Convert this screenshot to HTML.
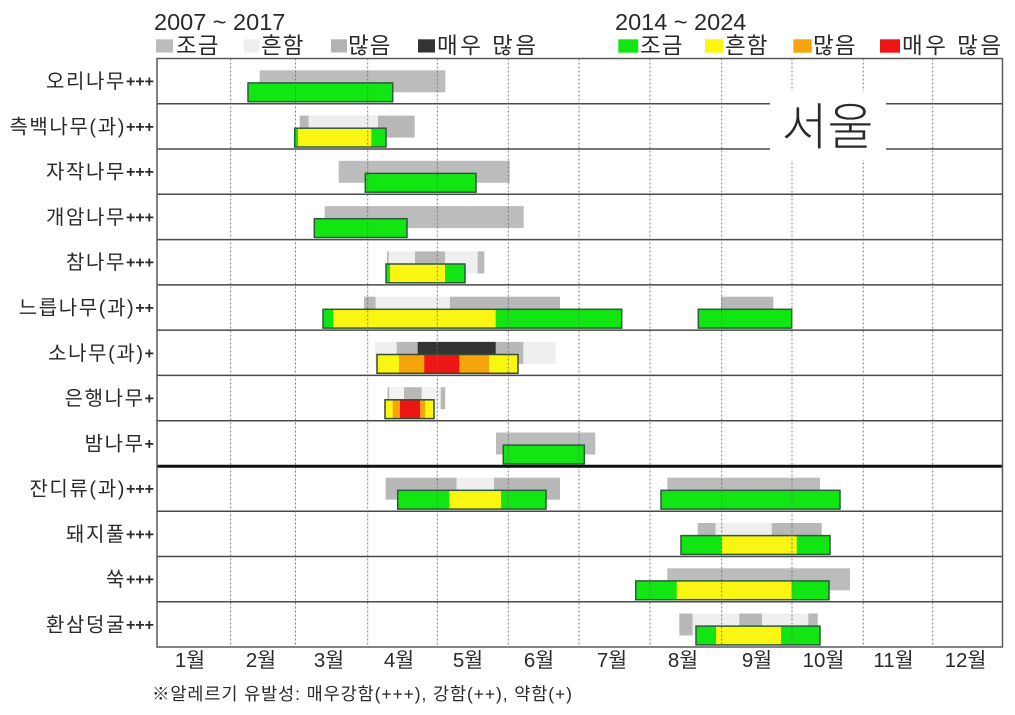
<!DOCTYPE html>
<html><head><meta charset="utf-8"><style>
html,body{margin:0;padding:0;background:#fff;}
svg{display:block;}
text{font-family:"Liberation Sans","Noto Sans CJK KR",sans-serif;fill:#2a2a2a;}
</style></head><body>
<svg width="1015" height="715" viewBox="0 0 1015 715" xmlns="http://www.w3.org/2000/svg">
<rect x="0" y="0" width="1015" height="715" fill="#fff"/>

<!-- Legends -->
<text x="154" y="30" font-size="23.5">2007 ~ 2017</text>
<rect x="156" y="39.3" width="17" height="13.2" fill="#bcbcbc"/>
<text x="176" y="53.5" font-size="22.5" letter-spacing="1">조금</text>
<rect x="244" y="39.3" width="15.5" height="13.2" fill="#eeeeee"/>
<text x="261" y="53.5" font-size="22.5" letter-spacing="1">흔함</text>
<rect x="331" y="39.3" width="16" height="13.2" fill="#b2b2b2"/>
<text x="348" y="53.5" font-size="22.5" letter-spacing="1">많음</text>
<rect x="418" y="39.3" width="17" height="13.2" fill="#333"/>
<text x="437" y="53.5" font-size="22.5" letter-spacing="2.5">매우 많음</text>

<text x="615" y="30" font-size="23.5">2014 ~ 2024</text>
<rect x="618.3" y="39.3" width="20" height="13.4" fill="#12e612"/>
<text x="640" y="53.5" font-size="22.5" letter-spacing="1">조금</text>
<rect x="705" y="39.3" width="18.3" height="13.4" fill="#fbf512"/>
<text x="725" y="53.5" font-size="22.5" letter-spacing="1">흔함</text>
<rect x="793.3" y="39.3" width="18.4" height="13.4" fill="#f6a40c"/>
<text x="813" y="53.5" font-size="22.5" letter-spacing="1">많음</text>
<rect x="880" y="39.3" width="20" height="13.4" fill="#ee1515"/>
<text x="902" y="53.5" font-size="22.5" letter-spacing="2.5">매우 많음</text>

<!-- Gray bars (2007~2017) -->
<g>
<rect x="259.7" y="70.3" width="185.6" height="22" fill="#bcbcbc"/>
<rect x="299.7" y="115.6" width="9" height="22" fill="#b8b8b8"/>
<rect x="308.7" y="115.6" width="69.3" height="22" fill="#eeeeee"/>
<rect x="378" y="115.6" width="36.7" height="22" fill="#b8b8b8"/>
<rect x="338.7" y="160.8" width="171" height="22" fill="#bcbcbc"/>
<rect x="324.7" y="206.1" width="199" height="22" fill="#bcbcbc"/>
<rect x="387.3" y="251.4" width="90.7" height="22" fill="#efefef"/>
<rect x="387" y="251.4" width="1.6" height="22" fill="#b8b8b8"/>
<rect x="415" y="251.4" width="30" height="22" fill="#b8b8b8"/>
<rect x="477.7" y="251.4" width="6.6" height="22" fill="#b8b8b8"/>
<rect x="364" y="296.7" width="11.7" height="22" fill="#b8b8b8"/>
<rect x="375.7" y="296.7" width="74.3" height="22" fill="#efefef"/>
<rect x="450" y="296.7" width="110" height="22" fill="#b8b8b8"/>
<rect x="721" y="296.7" width="52.3" height="22" fill="#b8b8b8"/>
<rect x="375" y="341.9" width="180.7" height="22" fill="#efefef"/>
<rect x="396.7" y="341.9" width="126.6" height="22" fill="#b8b8b8"/>
<rect x="417.7" y="341.9" width="78" height="22" fill="#333333"/>
<rect x="388" y="387.2" width="52.7" height="22" fill="#f2f2f2"/>
<rect x="387.5" y="387.2" width="1.6" height="22" fill="#b8b8b8"/>
<rect x="404" y="387.2" width="17.7" height="22" fill="#b8b8b8"/>
<rect x="440.7" y="387.2" width="4.5" height="22" fill="#b8b8b8"/>
<rect x="496" y="432.5" width="99.3" height="22" fill="#bcbcbc"/>
<rect x="385.7" y="477.7" width="71" height="22" fill="#b8b8b8"/>
<rect x="456.7" y="477.7" width="37.3" height="22" fill="#efefef"/>
<rect x="494" y="477.7" width="66" height="22" fill="#b8b8b8"/>
<rect x="667.3" y="477.7" width="152.7" height="22" fill="#bcbcbc"/>
<rect x="697.7" y="523" width="18" height="22" fill="#b8b8b8"/>
<rect x="715.7" y="523" width="56" height="22" fill="#efefef"/>
<rect x="771.7" y="523" width="50" height="22" fill="#b8b8b8"/>
<rect x="667.3" y="568.3" width="182.7" height="22" fill="#bcbcbc"/>
<rect x="679.3" y="613.5" width="13.4" height="22" fill="#b8b8b8"/>
<rect x="692.7" y="613.5" width="115.6" height="22" fill="#efefef"/>
<rect x="739.3" y="613.5" width="22.7" height="22" fill="#b8b8b8"/>
<rect x="808.3" y="613.5" width="9.4" height="22" fill="#b8b8b8"/>
</g>

<!-- Colored bars (2014~2024) -->
<g>
<rect x="248" y="82.9" width="144.7" height="18.8" fill="#12e612"/>
<rect x="248" y="82.9" width="144.7" height="18.8" fill="none" stroke="#2d5a3c" stroke-width="1.5"/>
<rect x="294.7" y="128.2" width="91.3" height="18.8" fill="#12e612"/>
<rect x="298" y="128.2" width="73.3" height="18.8" fill="#fbf512"/>
<rect x="294.7" y="128.2" width="91.3" height="18.8" fill="none" stroke="#2d5a3c" stroke-width="1.5"/>
<rect x="365.3" y="173.4" width="110.7" height="18.8" fill="#12e612"/>
<rect x="365.3" y="173.4" width="110.7" height="18.8" fill="none" stroke="#2d5a3c" stroke-width="1.5"/>
<rect x="314.3" y="218.7" width="92.7" height="18.8" fill="#12e612"/>
<rect x="314.3" y="218.7" width="92.7" height="18.8" fill="none" stroke="#2d5a3c" stroke-width="1.5"/>
<rect x="386" y="264" width="79" height="18.8" fill="#12e612"/>
<rect x="390" y="264" width="55" height="18.8" fill="#fbf512"/>
<rect x="386" y="264" width="79" height="18.8" fill="none" stroke="#2d5a3c" stroke-width="1.5"/>
<rect x="323" y="309.3" width="298.7" height="18.8" fill="#12e612"/>
<rect x="333.3" y="309.3" width="162.4" height="18.8" fill="#fbf512"/>
<rect x="323" y="309.3" width="298.7" height="18.8" fill="none" stroke="#2d5a3c" stroke-width="1.5"/>
<rect x="698.3" y="309.3" width="93.4" height="18.8" fill="#12e612"/>
<rect x="698.3" y="309.3" width="93.4" height="18.8" fill="none" stroke="#2d5a3c" stroke-width="1.5"/>
<rect x="377" y="354.5" width="141" height="18.8" fill="#fbf512"/>
<rect x="399" y="354.5" width="90" height="18.8" fill="#f6a40c"/>
<rect x="424.3" y="354.5" width="35" height="18.8" fill="#ee1515"/>
<rect x="377" y="354.5" width="141" height="18.8" fill="none" stroke="#3a4a30" stroke-width="1.5"/>
<rect x="385" y="399.8" width="49" height="18.8" fill="#fbf512"/>
<rect x="392.7" y="399.8" width="32.3" height="18.8" fill="#f6a40c"/>
<rect x="400" y="399.8" width="20" height="18.8" fill="#ee1515"/>
<rect x="385" y="399.8" width="49" height="18.8" fill="none" stroke="#3a4a30" stroke-width="1.5"/>
<rect x="503.3" y="445.1" width="81" height="18.8" fill="#12e612"/>
<rect x="503.3" y="445.1" width="81" height="18.8" fill="none" stroke="#2d5a3c" stroke-width="1.5"/>
<rect x="397.7" y="490.3" width="148.3" height="18.8" fill="#12e612"/>
<rect x="449.3" y="490.3" width="51.7" height="18.8" fill="#fbf512"/>
<rect x="397.7" y="490.3" width="148.3" height="18.8" fill="none" stroke="#2d5a3c" stroke-width="1.5"/>
<rect x="661" y="490.3" width="179" height="18.8" fill="#12e612"/>
<rect x="661" y="490.3" width="179" height="18.8" fill="none" stroke="#2d5a3c" stroke-width="1.5"/>
<rect x="681" y="535.6" width="149" height="18.8" fill="#12e612"/>
<rect x="721.7" y="535.6" width="75" height="18.8" fill="#fbf512"/>
<rect x="681" y="535.6" width="149" height="18.8" fill="none" stroke="#2d5a3c" stroke-width="1.5"/>
<rect x="635.7" y="580.9" width="193.3" height="18.8" fill="#12e612"/>
<rect x="676.7" y="580.9" width="115" height="18.8" fill="#fbf512"/>
<rect x="635.7" y="580.9" width="193.3" height="18.8" fill="none" stroke="#2d5a3c" stroke-width="1.5"/>
<rect x="696" y="626.1" width="124" height="18.8" fill="#12e612"/>
<rect x="716" y="626.1" width="65" height="18.8" fill="#fbf512"/>
<rect x="696" y="626.1" width="124" height="18.8" fill="none" stroke="#2d5a3c" stroke-width="1.5"/>
</g>

<!-- Vertical dashed month gridlines -->
<g stroke="#6a6a6a" stroke-width="1" stroke-dasharray="2 2" opacity="0.85">
<line x1="230.7" y1="58.5" x2="230.7" y2="647"/>
<line x1="295.5" y1="58.5" x2="295.5" y2="647"/>
<line x1="367.7" y1="58.5" x2="367.7" y2="647"/>
<line x1="437.3" y1="58.5" x2="437.3" y2="647"/>
<line x1="508.3" y1="58.5" x2="508.3" y2="647"/>
<line x1="579" y1="58.5" x2="579" y2="647"/>
<line x1="650" y1="58.5" x2="650" y2="647"/>
<line x1="721.7" y1="58.5" x2="721.7" y2="647"/>
<line x1="792" y1="58.5" x2="792" y2="647"/>
<line x1="863.3" y1="58.5" x2="863.3" y2="647"/>
<line x1="932.7" y1="58.5" x2="932.7" y2="647"/>
</g>

<!-- Row separators -->
<g stroke="#4a4a4a" stroke-width="1.5">
<line x1="157" y1="103.8" x2="1002.5" y2="103.8"/>
<line x1="157" y1="149" x2="1002.5" y2="149"/>
<line x1="157" y1="194.3" x2="1002.5" y2="194.3"/>
<line x1="157" y1="239.6" x2="1002.5" y2="239.6"/>
<line x1="157" y1="284.9" x2="1002.5" y2="284.9"/>
<line x1="157" y1="330.1" x2="1002.5" y2="330.1"/>
<line x1="157" y1="375.4" x2="1002.5" y2="375.4"/>
<line x1="157" y1="420.7" x2="1002.5" y2="420.7"/>
<line x1="157" y1="511.2" x2="1002.5" y2="511.2"/>
<line x1="157" y1="556.5" x2="1002.5" y2="556.5"/>
<line x1="157" y1="601.8" x2="1002.5" y2="601.8"/>
</g>
<line x1="157" y1="466.2" x2="1002.5" y2="466.2" stroke="#111" stroke-width="3"/>
<rect x="157" y="58.5" width="845.5" height="588.5" fill="none" stroke="#5a5a5a" stroke-width="1.5"/>

<!-- Seoul box -->
<rect x="770" y="91" width="116" height="69" fill="#fff"/>
<text x="827.5" y="144.5" font-size="50" font-weight="300" text-anchor="middle" fill="#1a1a1a">서울</text>

<!-- Row labels -->
<g font-size="20" text-anchor="end" letter-spacing="1.6">
<text x="154" y="88">오리나무<tspan font-size="16" font-weight="bold" letter-spacing="0" dy="-1.5">+++</tspan></text>
<text x="154" y="133.3">측백나무(과)<tspan font-size="16" font-weight="bold" letter-spacing="0" dy="-1.5">+++</tspan></text>
<text x="154" y="178.6">자작나무<tspan font-size="16" font-weight="bold" letter-spacing="0" dy="-1.5">+++</tspan></text>
<text x="154" y="223.9">개암나무<tspan font-size="16" font-weight="bold" letter-spacing="0" dy="-1.5">+++</tspan></text>
<text x="154" y="269.2">참나무<tspan font-size="16" font-weight="bold" letter-spacing="0" dy="-1.5">+++</tspan></text>
<text x="154" y="314.5">느릅나무(과)<tspan font-size="16" font-weight="bold" letter-spacing="0" dy="-1.5">++</tspan></text>
<text x="154" y="359.8">소나무(과)<tspan font-size="16" font-weight="bold" letter-spacing="0" dy="-1.5">+</tspan></text>
<text x="154" y="405">은행나무<tspan font-size="16" font-weight="bold" letter-spacing="0" dy="-1.5">+</tspan></text>
<text x="154" y="450.3">밤나무<tspan font-size="16" font-weight="bold" letter-spacing="0" dy="-1.5">+</tspan></text>
<text x="154" y="495.6">잔디류(과)<tspan font-size="16" font-weight="bold" letter-spacing="0" dy="-1.5">+++</tspan></text>
<text x="154" y="540.9">돼지풀<tspan font-size="16" font-weight="bold" letter-spacing="0" dy="-1.5">+++</tspan></text>
<text x="154" y="586.2">쑥<tspan font-size="16" font-weight="bold" letter-spacing="0" dy="-1.5">+++</tspan></text>
<text x="154" y="631.4">환삼덩굴<tspan font-size="16" font-weight="bold" letter-spacing="0" dy="-1.5">+++</tspan></text>
</g>

<!-- Month labels -->
<g font-size="20.5" text-anchor="middle">
<text x="190" y="667">1월</text>
<text x="261" y="667">2월</text>
<text x="329" y="667">3월</text>
<text x="399" y="667">4월</text>
<text x="468" y="667">5월</text>
<text x="539" y="667">6월</text>
<text x="612" y="667">7월</text>
<text x="683" y="667">8월</text>
<text x="757" y="667">9월</text>
<text x="823.5" y="667">10월</text>
<text x="893.5" y="667">11월</text>
<text x="965.5" y="667">12월</text>
</g>

<!-- Footnote -->
<text x="152" y="700" font-size="17.5" letter-spacing="0.9" fill="#333">※알레르기 유발성: 매우강함(+++), 강함(++), 약함(+)</text>
</svg>
</body></html>
